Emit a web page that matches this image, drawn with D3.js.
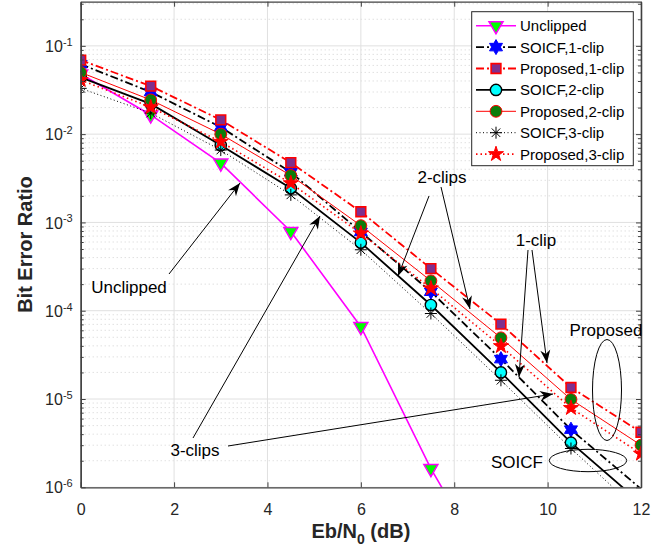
<!DOCTYPE html>
<html>
<head>
<meta charset="utf-8">
<script src="https://cdn.jsdelivr.net/npm/d3@7"></script>
<style>
  body { margin: 0; background: #fff; }
  svg { font-family: Arial, "Liberation Sans", Helvetica, sans-serif; }
</style>
</head>
<body>
<div id="chart"></div>
<script>
// data
const snr = [0, 1.5, 3, 4.5, 6, 7.5, 9, 10.5, 12];
const unclipped = [0.048, 0.0165, 0.0047, 7.9e-4, 6.6e-5, 1.63e-6, 7e-8, 2e-9, 5e-11];
const soicf1 = [0.062, 0.030, 0.012, 0.0037, 7.8e-4, 1.64e-4, 2.83e-5, 4.5e-6, 9.6e-7];
const prop1  = [0.069, 0.035, 0.0145, 0.00475, 1.32e-3, 3.0e-4, 7.05e-5, 1.35e-5, 4.2e-6];
const soicf2 = [0.044, 0.022, 0.0075, 0.00244, 5.9e-4, 1.16e-4, 2.0e-5, 3.2e-6, 6.6e-7];
const prop2  = [0.050, 0.0244, 0.010, 0.0034, 9.2e-4, 2.18e-4, 4.93e-5, 9.9e-6, 3.0e-6];
const soicf3 = [0.033, 0.0173, 0.0066, 0.00205, 4.9e-4, 9.3e-5, 1.63e-5, 2.75e-6, 5.1e-7];
const prop3  = [0.041, 0.0202, 0.0082, 0.00278, 7.5e-4, 1.79e-4, 3.97e-5, 7.9e-6, 2.4e-6];

const xTicks = [0, 2, 4, 6, 8, 10, 12];
const yExp = [-6, -5, -4, -3, -2, -1];

const width = 670;
const height = 554;
const plot = {left: 80.7, right: 641, top: 1.7, bottom: 487.3};

const x = d3.scaleLinear().domain([0, 12]).range([plot.left, plot.right]);
const y = d3.scaleLog().domain([1e-6, Math.pow(10, -0.5)]).range([plot.bottom, plot.top]);

const yTicks = yExp.map(e => Math.pow(10, e));
let yMinor = [];
for (let e = -6; e <= -1; e++) {
    for (let k = 2; k <= 9; k++) {
        const v = k * Math.pow(10, e);
        if (v < Math.pow(10, -0.5)) yMinor.push(v);
    }
}

const svg = d3.select('#chart').append('svg').attr('width', width).attr('height', height);

svg.append('defs').append('clipPath').attr('id', 'clip')
    .append('rect')
    .attr('x', plot.left).attr('y', plot.top)
    .attr('width', plot.right - plot.left).attr('height', plot.bottom - plot.top);

// grid
const grid = svg.append('g');
grid.selectAll('.ymin').data(yMinor).enter().append('line')
    .attr('x1', plot.left).attr('x2', plot.right)
    .attr('y1', d => y(d)).attr('y2', d => y(d))
    .attr('stroke', '#c8c8c8').attr('stroke-width', 0.8).attr('stroke-dasharray', '1,3');
grid.selectAll('.ymaj').data(yTicks).enter().append('line')
    .attr('x1', plot.left).attr('x2', plot.right)
    .attr('y1', d => y(d)).attr('y2', d => y(d))
    .attr('stroke', '#e0e0e0').attr('stroke-width', 1);
grid.selectAll('.xmaj').data(xTicks).enter().append('line')
    .attr('x1', d => x(d)).attr('x2', d => x(d))
    .attr('y1', plot.top).attr('y2', plot.bottom)
    .attr('stroke', '#e0e0e0').attr('stroke-width', 1);

// markers
function hexagram(R) {
    const r = R / Math.sqrt(3);
    let pts = [];
    for (let i = 0; i < 12; i++) {
        const a = -Math.PI / 2 + i * Math.PI / 6;
        const rr = i % 2 === 0 ? R : r;
        pts.push([rr * Math.cos(a), rr * Math.sin(a)]);
    }
    return 'M' + pts.map(p => p.join(',')).join('L') + 'Z';
}
function asterisk(R) {
    const d = R * Math.SQRT1_2;
    return `M${-R},0L${R},0M0,${-R}L0,${R}M${-d},${-d}L${d},${d}M${-d},${d}L${d},${-d}`;
}

const series = [
    {name: 'Unclipped', data: unclipped, color: '#ff00ff', lw: 1.6, dash: null,
     marker: {path: d3.symbol(d3.symbolTriangle, 85)(), rot: 180, fill: '#00ff00', stroke: '#ff00ff', sw: 1.5}},
    {name: 'SOICF,1-clip', data: soicf1, color: '#000000', lw: 1.8, dash: '8,3,2,3',
     marker: {path: hexagram(7.5), rot: 0, fill: '#0000ff', stroke: '#0000ff', sw: 1}},
    {name: 'Proposed,1-clip', data: prop1, color: '#ff0000', lw: 1.8, dash: '8,3,2,3',
     marker: {path: d3.symbol(d3.symbolSquare, 95)(), rot: 0, fill: '#7e2f8e', stroke: '#ff0000', sw: 1.6}},
    {name: 'SOICF,2-clip', data: soicf2, color: '#000000', lw: 1.8, dash: null,
     marker: {path: d3.symbol(d3.symbolCircle, 100)(), rot: 0, fill: '#00ffff', stroke: '#000000', sw: 1.4}},
    {name: 'Proposed,2-clip', data: prop2, color: '#ff0000', lw: 1, dash: null,
     marker: {path: d3.symbol(d3.symbolCircle, 110)(), rot: 0, fill: '#0b7d0b', stroke: '#ff0000', sw: 1}},
    {name: 'SOICF,3-clip', data: soicf3, color: '#000000', lw: 1, dash: '1,2.5',
     marker: {path: asterisk(6), rot: 0, fill: 'none', stroke: '#000000', sw: 1}},
    {name: 'Proposed,3-clip', data: prop3, color: '#ff0000', lw: 1.6, dash: '1.5,3',
     marker: {path: d3.symbol(d3.symbolStar, 70)(), rot: 0, fill: '#ff0000', stroke: '#ff0000', sw: 1}}
];

const line = d3.line().x(d => x(d[0])).y(d => y(d[1]));
const plotG = svg.append('g').attr('clip-path', 'url(#clip)');

for (let s of series) {
    const pts = snr.map((v, i) => [v, s.data[i]]);
    plotG.append('path')
        .attr('d', line(pts))
        .attr('fill', 'none')
        .attr('stroke', s.color)
        .attr('stroke-width', s.lw)
        .attr('stroke-dasharray', s.dash);
    plotG.selectAll(null).data(pts.filter(p => p[1] >= 1e-6)).enter().append('path')
        .attr('d', s.marker.path)
        .attr('transform', d => `translate(${x(d[0])},${y(d[1])}) rotate(${s.marker.rot})`)
        .attr('fill', s.marker.fill)
        .attr('stroke', s.marker.stroke)
        .attr('stroke-width', s.marker.sw);
}

// axes (ticks inside, box on)
const axisColor = '#404040';
const styleAxis = g => {
    g.select('.domain').attr('stroke', axisColor).attr('stroke-width', 1.3);
    g.selectAll('.tick line').attr('stroke', axisColor);
};
svg.append('g').attr('transform', `translate(0,${plot.bottom})`)
    .call(d3.axisBottom(x).tickValues(xTicks).tickSize(-5).tickSizeOuter(0).tickPadding(16))
    .call(styleAxis)
    .call(g => g.selectAll('text').attr('font-size', 16).attr('fill', '#262626').attr('font-family', 'Arial, Liberation Sans, sans-serif'));
svg.append('g').attr('transform', `translate(0,${plot.top})`)
    .call(d3.axisTop(x).tickValues(xTicks).tickSize(-5).tickSizeOuter(0).tickFormat(''))
    .call(styleAxis);

const yLeft = svg.append('g').attr('transform', `translate(${plot.left},0)`)
    .call(d3.axisLeft(y).tickValues(yTicks).tickSize(-5).tickSizeOuter(0).tickFormat(''))
    .call(styleAxis);
yLeft.selectAll('.tick').append('text')
    .attr('x', -8).attr('dy', '0.35em')
    .attr('text-anchor', 'end')
    .attr('fill', '#262626')
    .attr('font-size', 16)
    .attr('font-family', 'Arial, Liberation Sans, sans-serif')
    .each(function(d) {
        const t = d3.select(this);
        t.append('tspan').text('10');
        t.append('tspan').attr('dy', '-0.55em').attr('font-size', 11).text(Math.round(Math.log10(d)));
    });
svg.append('g').attr('transform', `translate(${plot.left},0)`)
    .call(d3.axisLeft(y).tickValues(yMinor).tickSize(-3).tickSizeOuter(0).tickFormat(''))
    .call(styleAxis);
svg.append('g').attr('transform', `translate(${plot.right},0)`)
    .call(d3.axisRight(y).tickValues(yTicks).tickSize(-5).tickSizeOuter(0).tickFormat(''))
    .call(styleAxis);
svg.append('g').attr('transform', `translate(${plot.right},0)`)
    .call(d3.axisRight(y).tickValues(yMinor).tickSize(-3).tickSizeOuter(0).tickFormat(''))
    .call(styleAxis);

// axis titles
const xt = svg.append('text')
    .attr('x', (plot.left + plot.right) / 2).attr('y', 538)
    .attr('text-anchor', 'middle').attr('font-size', 20).attr('font-weight', 'bold').attr('fill', '#262626');
xt.append('tspan').text('Eb/N');
xt.append('tspan').attr('font-size', 14).attr('dy', 6).text('0');
xt.append('tspan').attr('dy', -6).text(' (dB)');

svg.append('text')
    .attr('transform', `translate(32,${(plot.top + plot.bottom) / 2}) rotate(-90)`)
    .attr('text-anchor', 'middle').attr('font-size', 20).attr('font-weight', 'bold').attr('fill', '#262626')
    .text('Bit Error Ratio');

// annotations
const ann = svg.append('g');
function arrow(x1, y1, x2, y2) {
    ann.append('line').attr('x1', x1).attr('y1', y1).attr('x2', x2).attr('y2', y2)
        .attr('stroke', '#000').attr('stroke-width', 1);
    const a = Math.atan2(y2 - y1, x2 - x1) * 180 / Math.PI;
    ann.append('path')
        .attr('d', 'M0,0L-13,-5L-9,0L-13,5Z')
        .attr('transform', `translate(${x2},${y2}) rotate(${a})`)
        .attr('fill', '#000');
}
arrow(169, 274, 240, 183);
arrow(193, 438, 320, 216);
arrow(228, 446, 553, 394);
arrow(429, 196, 398, 276);
arrow(441, 187, 470, 309);
arrow(528, 250, 519, 377);
arrow(532, 250, 547, 363);

const annText = [
    {t: 'Unclipped', x: 129, y: 293},
    {t: '3-clips', x: 195, y: 456},
    {t: '2-clips', x: 442, y: 183},
    {t: '1-clip', x: 536, y: 246},
    {t: 'Proposed', x: 606, y: 336},
    {t: 'SOICF', x: 517, y: 468}
];
ann.selectAll('text').data(annText).enter().append('text')
    .attr('x', d => d.x).attr('y', d => d.y)
    .attr('text-anchor', 'middle').attr('font-size', 17).attr('fill', '#000')
    .text(d => d.t);
ann.append('ellipse').attr('cx', 607).attr('cy', 390).attr('rx', 14.5).attr('ry', 50.5)
    .attr('fill', 'none').attr('stroke', '#000').attr('stroke-width', 1);
ann.append('ellipse').attr('cx', 588).attr('cy', 460.5).attr('rx', 38.7).attr('ry', 11.2)
    .attr('fill', 'none').attr('stroke', '#000').attr('stroke-width', 1);

// legend
const leg = svg.append('g');
leg.append('rect').attr('x', 471.7).attr('y', 11.7).attr('width', 161.6).attr('height', 154)
    .attr('fill', '#fff').attr('stroke', '#262626').attr('stroke-width', 1);
series.forEach((s, i) => {
    const cy = 25.7 + i * 21.4;
    const row = leg.append('g');
    row.append('line').attr('x1', 476).attr('x2', 516).attr('y1', cy).attr('y2', cy)
        .attr('stroke', s.color).attr('stroke-width', s.lw).attr('stroke-dasharray', s.dash);
    row.append('path').attr('d', s.marker.path)
        .attr('transform', `translate(496,${cy}) rotate(${s.marker.rot})`)
        .attr('fill', s.marker.fill).attr('stroke', s.marker.stroke).attr('stroke-width', s.marker.sw);
    row.append('text').attr('x', 520).attr('y', cy).attr('dy', '0.36em')
        .attr('font-size', 15).attr('fill', '#000').text(s.name);
});
</script>
</body>
</html>
